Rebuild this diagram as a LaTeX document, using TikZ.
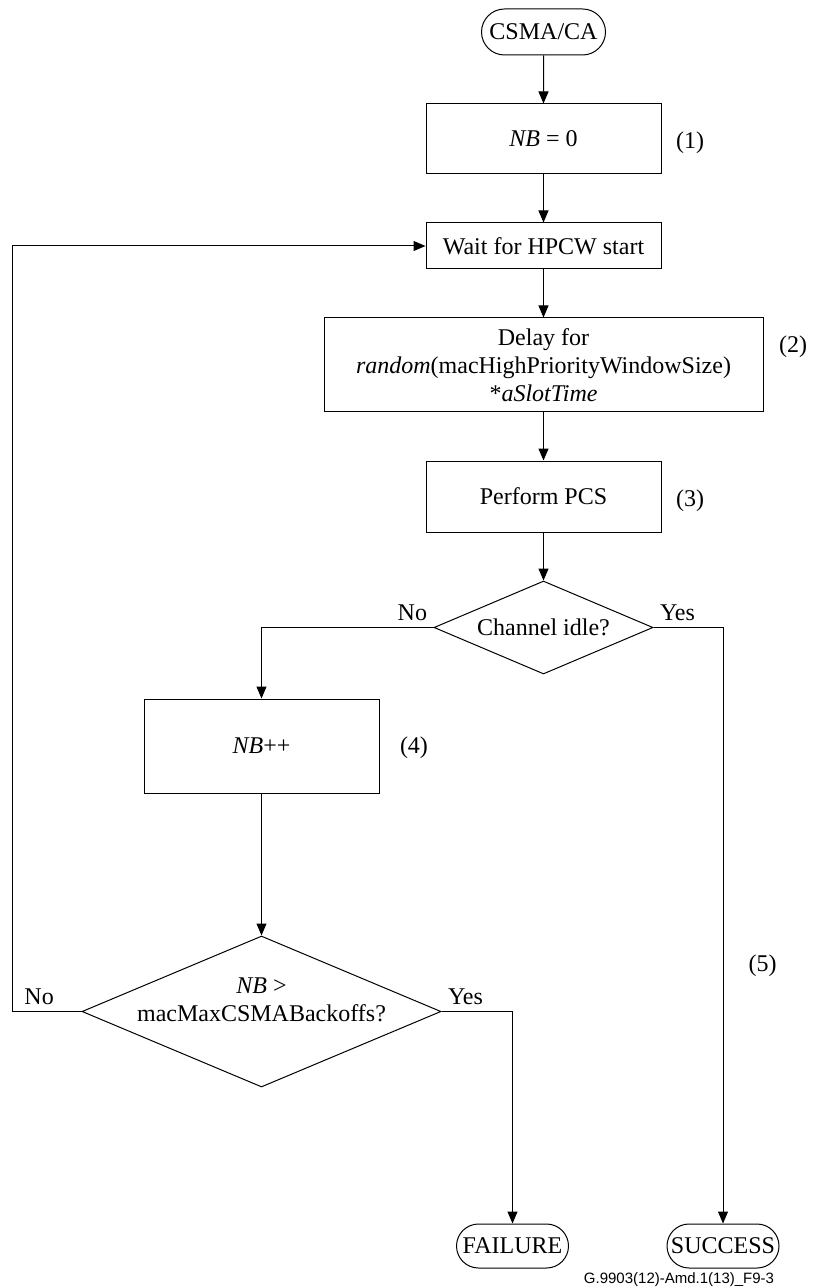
\documentclass[tikz,border=0pt]{standalone}
\usepackage{fontspec}
\setmainfont{Liberation Serif}
\newfontfamily\figidfont{Liberation Sans}
\usetikzlibrary{shapes,arrows.meta,positioning}

\begin{document}
\begin{tikzpicture}[
    x=0.5pt, y=-0.5pt,
    font=\fontsize{12}{14}\selectfont,
    line width=0.5pt,
    terminal/.style={rounded rectangle, draw, minimum width=80pt, minimum height=22pt, inner xsep=12pt},
    process/.style={rectangle, draw, text centered, minimum width=117.5pt, inner sep=3pt},
    decision/.style={diamond, draw, inner sep=0pt, aspect=2.36},
    numlabel/.style={inner sep=0pt, anchor=west},
    answer/.style={inner sep=3pt},
    arrow/.style={-{Triangle[length=6pt,width=5pt]}}
]
\useasboundingbox (0,0) rectangle (813,1288);

% Main workflow
\node[terminal, minimum width=86pt, minimum height=23pt] (start) at (543.5,32) {CSMA/CA};
\node[process, below=24pt of start, minimum height=35pt] (nbzero) {\textit{NB} = 0};
\node[process, below=24pt of nbzero, minimum height=23pt] (wait) {Wait for HPCW start};
\node[process, below=24pt of wait, minimum width=219.5pt, minimum height=47pt, align=center] (delay) {Delay for\\\textit{random}(macHighPriorityWindowSize)\\*\textit{aSlotTime}};
\node[process, below=24pt of delay, minimum height=35.5pt] (pcs) {Perform PCS};
\node[decision, below=24pt of pcs, minimum width=109.5pt, minimum height=46.5pt] (idle) {Channel idle?};
\node[process, below=12pt of idle, xshift=-141pt, minimum height=47pt] (nbinc) {\textit{NB}++};
\node[decision, below=71pt of nbinc, minimum width=179.5pt, minimum height=75.5pt] (maxcheck) {};
\node[align=center, inner sep=0pt] (maxtext) at ([yshift=6pt]maxcheck.center) {\textit{NB} >\\macMaxCSMABackoffs?};
\node[terminal, below=68pt of maxcheck, xshift=125.5pt] (failure) {FAILURE};
\node[terminal, below=68pt of maxcheck, xshift=230.75pt] (success) {SUCCESS};

% Step numbers
\node[numlabel, right=7pt of nbzero, yshift=-2pt] (n1) {(1)};
\node[numlabel, right=7.5pt of delay, yshift=9pt] (n2) {(2)};
\node[numlabel, right=7pt of pcs, yshift=-2pt] (n3) {(3)};
\node[numlabel, right=10pt of nbinc, yshift=-1pt] (n4) {(4)};
\node[numlabel] (n5) at (748,966) {(5)};

% Branch labels
\coordinate (loopx) at (12,0);
\node[answer, anchor=south east] (idleno) at (idle.west) {No};
\node[answer, anchor=south west] (idleyes) at (idle.east) {Yes};
\node[answer, anchor=south west, xshift=3pt] (maxno) at (maxcheck.west -| loopx) {No};
\node[answer, anchor=south west] (maxyes) at (maxcheck.east) {Yes};

% Arrows
\draw[arrow] (start) -- (nbzero);
\draw[arrow] (nbzero) -- (wait);
\draw[arrow] (wait) -- (delay);
\draw[arrow] (delay) -- (pcs);
\draw[arrow] (pcs) -- (idle);
\draw[arrow] (idle.west) -| (nbinc.north);
\draw[arrow] (idle.east) -| (success.north);
\draw[arrow] (nbinc) -- (maxcheck);
\draw[arrow] (maxcheck.east) -| (failure.north);
\draw[arrow] (maxcheck.west) -- (maxcheck.west -| loopx) |- (wait.west);

% Figure id
\node[anchor=north, inner sep=0pt, font=\figidfont\fontsize{7.5}{9}\selectfont, xshift=-22pt, yshift=-2pt] (figid) at (success.south) {G.9903(12)-Amd.1(13)\_F9-3};
\end{tikzpicture}
\end{document}
